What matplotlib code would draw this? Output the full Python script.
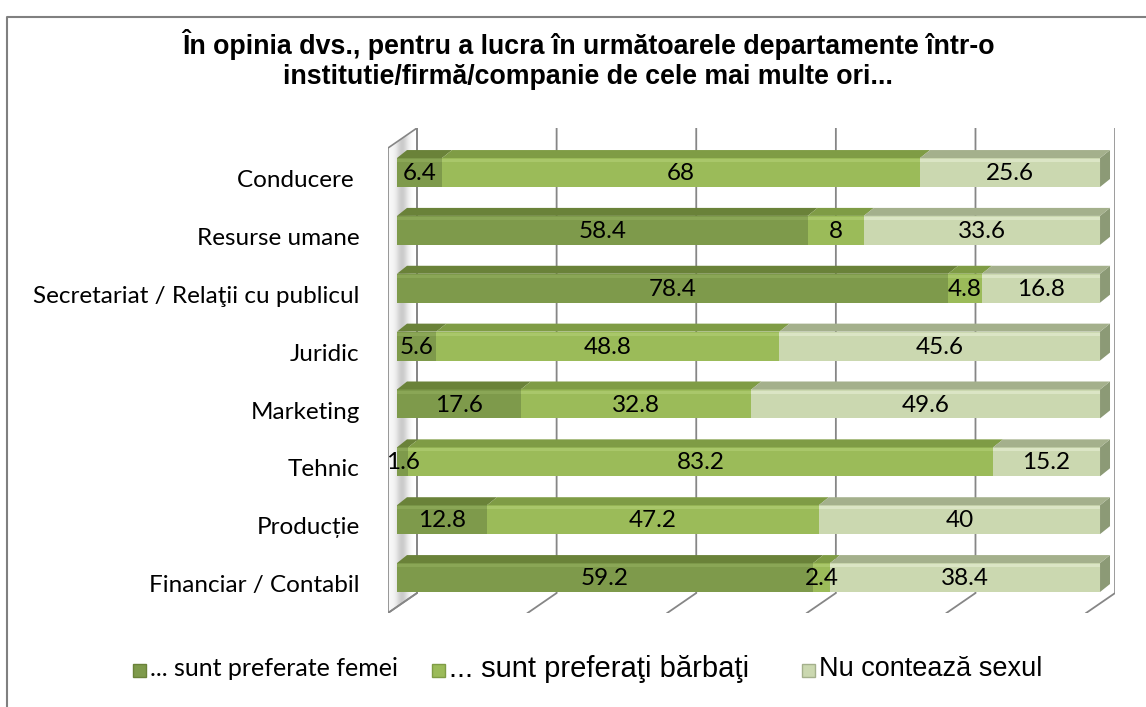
import numpy as np
import matplotlib.pyplot as plt
from matplotlib.patches import Polygon, Rectangle

# ── date ──────────────────────────────────────
categorii = ["Conducere ", "Resurse umane", "Secretariat / Relaţii cu publicul",
             "Juridic", "Marketing", "Tehnic", "Producție", "Financiar / Contabil"]
femei       = [6.4, 58.4, 78.4, 5.6, 17.6, 1.6, 12.8, 59.2]
barbati     = [68, 8, 4.8, 48.8, 32.8, 83.2, 47.2, 2.4]
nu_conteaza = [25.6, 33.6, 16.8, 45.6, 49.6, 15.2, 40, 38.4]
serii = ["... sunt preferate femei", "... sunt preferaţi bărbaţi", "Nu contează sexul"]
grila = [0, 20, 40, 60, 80, 100]
titlu = ("În opinia dvs., pentru a lucra în următoarele departamente într-o\n"
         "institutie/firmă/companie de cele mai multe ori...")

# ── stil ──────────────────────────────────────
W, H = 1146, 707
FATA = ["#7e9a4b", "#9bbb59", "#cbd8b0"]     # fata barelor
SUS  = ["#6a8239", "#7f9c45", "#a4b08c"]     # fata de sus
LUMINA = ["#8aa656", "#a9c76a", "#dbe5c5"]
CAPAT = "#8c9a76"
GRI = "#868686"
FONT_C = "Lato"
FONT_A = "Liberation Sans"

# adancime 3D (unitati de date)
DXW, DYW = 4.125, 0.3457     # pereti
DXB, DYB = 1.42, 0.138       # bare
BX0, BSC = 2.845, 0.993      # planul din spate
YTOP, YBACK, YFRONT = -0.769, 7.268, 7.613
HB = 0.5

fig = plt.figure(figsize=(W / 100, H / 100), dpi=100)
ax = fig.add_axes([388 / W, 1 - 613 / H, 727 / W, 485 / H])
ax.set_xlim(-1.28, 102.13)
ax.set_ylim(YFRONT, YTOP)
ax.axis("off")

# peretele din stanga, cu gradient
wall = Polygon([(BX0 - DXW, YFRONT), (BX0 - DXW, YTOP + DYW), (BX0, YTOP), (BX0, YBACK)],
               closed=True, facecolor="none", edgecolor=GRI, lw=1.2, zorder=1)
ax.add_patch(wall)
g = np.array([[0.97, 0.96, 0.90, 0.78, 0.80, 0.92, 0.98, 1.0]])
im = ax.imshow(g, cmap="gray", vmin=0, vmax=1, aspect="auto",
               extent=(BX0 - DXW, BX0, YFRONT, YTOP), zorder=0.5, interpolation="bicubic")
im.set_clip_path(wall)

# liniile de grila (spate + podea)
for v in grila:
    xb = BX0 + BSC * v
    ax.plot([xb, xb, xb - DXW], [YTOP, YBACK, YFRONT], color=GRI, lw=1.3, zorder=1,
            solid_joinstyle="miter")

# bare
y = np.arange(len(categorii))
valori = [femei, barbati, nu_conteaza]
stanga = np.zeros(len(categorii))
for k, vals in enumerate(valori):
    vals = np.array(vals, dtype=float)
    ax.barh(y, vals, left=stanga, height=HB, color=FATA[k], zorder=3)
    ax.barh(y - HB / 2 + 0.045, vals, left=stanga, height=0.05, color=LUMINA[k], zorder=3.1)
    for yi, l, v in zip(y, stanga, vals):
        top = [(l, yi - HB / 2), (l + DXB, yi - HB / 2 - DYB),
               (l + v + DXB, yi - HB / 2 - DYB), (l + v, yi - HB / 2)]
        ax.add_patch(Polygon(top, closed=True, facecolor=SUS[k], edgecolor="none", zorder=3))
        ax.text(l + v / 2, yi + 0.02, f"{v:g}", ha="center", va="center",
                fontsize=17.5, family=FONT_C, color="black", zorder=5)
    stanga = stanga + vals

# capatul din dreapta al barelor
for yi, s in zip(y, stanga):
    cap = [(s, yi + HB / 2), (s, yi - HB / 2), (s + DXB, yi - HB / 2 - DYB),
           (s + DXB, yi + HB / 2 - DYB)]
    ax.add_patch(Polygon(cap, closed=True, facecolor=CAPAT, edgecolor="none",
                         zorder=2.9, joinstyle="round"))

# etichete categorii
for yi, c in zip(y, categorii):
    ax.text(-5.3, yi + 0.14, c, ha="right", va="center", fontsize=17.5,
            family=FONT_C, color="black")

# titlu
fig.text(588 / W, 1 - 60 / H, titlu, ha="center", va="center", fontsize=19.3,
         fontweight="bold", family=FONT_A, linespacing=1.2)

# legenda
leg_x = [133, 432, 802]
leg_font = [(FONT_C, 18), (FONT_A, 21), (FONT_A, 19.5)]
for k, name in enumerate(serii):
    x0 = leg_x[k]
    fig.add_artist(Rectangle((x0 / W, 1 - 677 / H), 13 / W, 13 / H, transform=fig.transFigure,
                             facecolor=FATA[k], edgecolor=SUS[k], lw=1.0))
    fam, fs = leg_font[k]
    fig.text((x0 + 17) / W, 1 - 669 / H, name, ha="left", va="center",
             fontsize=fs, family=fam)

# chenarul exterior
fig.add_artist(plt.Line2D([7 / W, 7 / W, 1.0], [0, 1 - 17 / H, 1 - 17 / H],
                          transform=fig.transFigure, color="#808080", lw=1.5))

fig.savefig("out.png", dpi=100)
